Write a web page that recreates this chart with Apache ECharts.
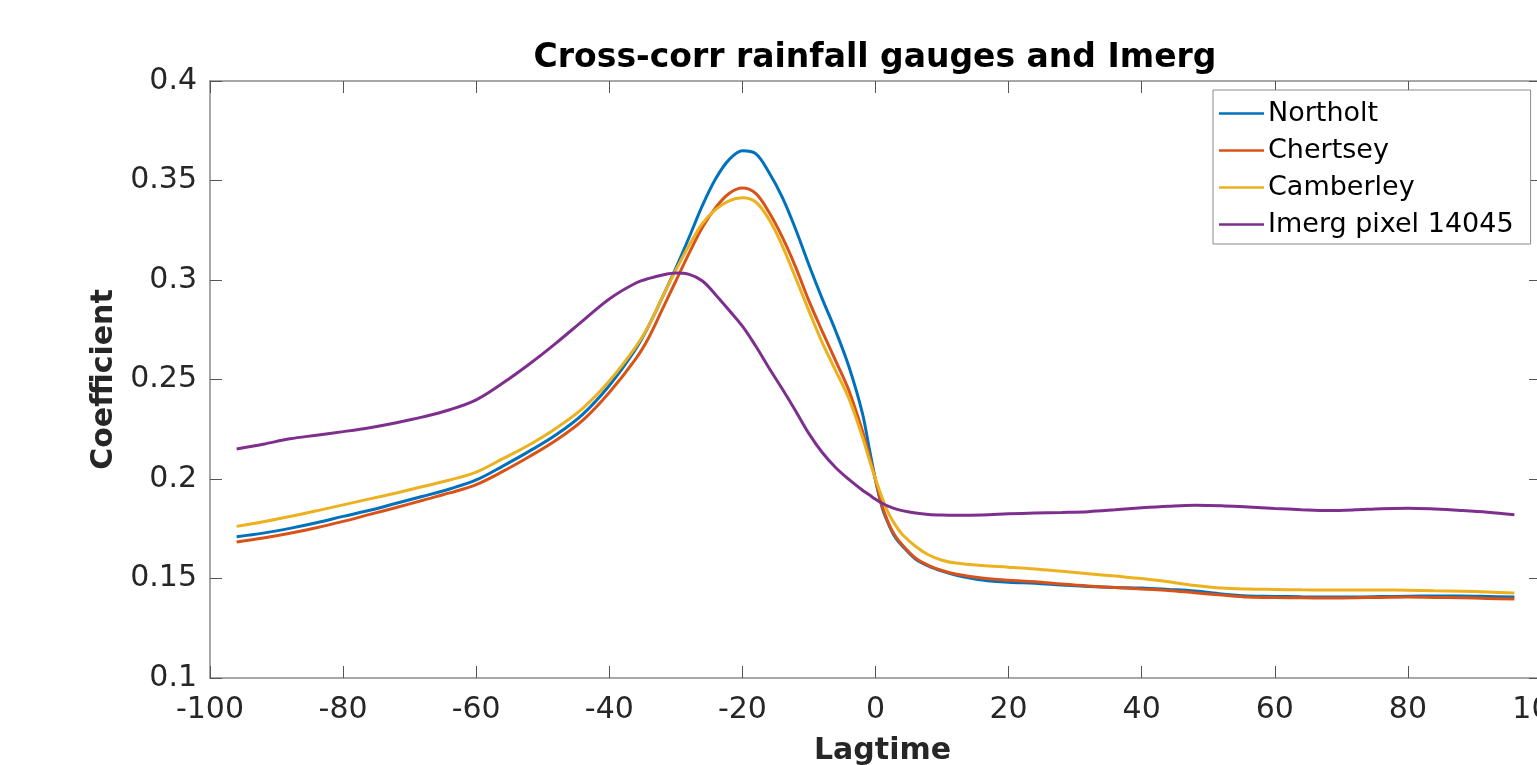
<!DOCTYPE html>
<html>
<head>
<meta charset="utf-8">
<title>Cross-corr rainfall gauges and Imerg</title>
<script src="https://cdn.jsdelivr.net/npm/echarts@6/dist/echarts.min.js"></script>
<style>
  html, body { margin: 0; padding: 0; background: #ffffff; }
  #chart { width: 1537px; height: 765px; }
</style>
</head>
<body>
<div id="chart"></div>
<script>
// lag values (x)
var lags = [-96, -92, -88, -84, -80, -76, -72, -68, -64, -60, -56, -52, -48, -44, -40, -36,
  -34, -32, -30, -28, -26, -24, -22, -20, -18, -16, -14, -12, -10, -8, -6, -4, -2,
  -1, 0, 1, 2, 3, 4, 6, 8, 10, 12,
  16, 20, 24, 28, 32, 36, 40, 44, 48, 52, 56, 60, 64, 68, 72, 76, 80, 84, 88, 92, 96];

var northolt = [0.1710, 0.1728, 0.1752, 0.1780, 0.1812, 0.1843, 0.1878, 0.1913, 0.1950, 0.1995, 0.2065, 0.2140, 0.2222, 0.2325, 0.2470, 0.2655,
  0.2775, 0.2915, 0.3060, 0.3215, 0.3375, 0.3510, 0.3605, 0.3650, 0.3635, 0.3540, 0.3415, 0.3255, 0.3075, 0.2905, 0.2745, 0.2565, 0.2335,
  0.2165, 0.1995, 0.1855, 0.1770, 0.1705, 0.1665, 0.1598, 0.1562, 0.1537, 0.1518,
  0.1493, 0.1481, 0.1476, 0.1467, 0.1460, 0.1455, 0.1452, 0.1445, 0.1437, 0.1422, 0.1412, 0.1410, 0.1408, 0.1407, 0.1407, 0.1409, 0.1411, 0.1412, 0.1412, 0.1410, 0.1407];

var chertsey = [0.1683, 0.1703, 0.1727, 0.1755, 0.1787, 0.1822, 0.1857, 0.1893, 0.1930, 0.1972, 0.2038, 0.2113, 0.2195, 0.2295, 0.2435, 0.2605,
  0.2715, 0.2855, 0.2995, 0.3135, 0.3265, 0.3365, 0.3435, 0.3462, 0.3435, 0.3340, 0.3215, 0.3065, 0.2895, 0.2742, 0.2595, 0.2445, 0.2245,
  0.2125, 0.1995, 0.1865, 0.1775, 0.1712, 0.1670, 0.1603, 0.1565, 0.1540, 0.1523,
  0.1502, 0.1491, 0.1484, 0.1472, 0.1462, 0.1455, 0.1447, 0.1440, 0.1428, 0.1417, 0.1407, 0.1404, 0.1403, 0.1402, 0.1403, 0.1405, 0.1407, 0.1405, 0.1403, 0.1400, 0.1397];

var camberley = [0.1762, 0.1785, 0.1812, 0.1840, 0.1870, 0.1900, 0.1930, 0.1962, 0.1995, 0.2035, 0.2102, 0.2172, 0.2255, 0.2355, 0.2492, 0.2665,
  0.2775, 0.2915, 0.3050, 0.3175, 0.3285, 0.3355, 0.3398, 0.3413, 0.3392, 0.3305, 0.3172, 0.3010, 0.2845, 0.2685, 0.2545, 0.2405, 0.2215,
  0.2105, 0.2000, 0.1905, 0.1825, 0.1768, 0.1722, 0.1662, 0.1618, 0.1592, 0.1578,
  0.1565, 0.1557, 0.1548, 0.1536, 0.1524, 0.1512, 0.1500, 0.1484, 0.1465, 0.1452, 0.1447, 0.1445, 0.1443, 0.1442, 0.1442, 0.1442, 0.1441, 0.1438, 0.1436, 0.1432, 0.1427];

var imerg = [0.2151, 0.2175, 0.2202, 0.2220, 0.2238, 0.2258, 0.2283, 0.2312, 0.2348, 0.2398, 0.2482, 0.2578, 0.2683, 0.2795, 0.2905, 0.2985,
  0.3008, 0.3025, 0.3035, 0.3028, 0.2995, 0.2925, 0.2848, 0.2768, 0.2668, 0.2558, 0.2452, 0.2342, 0.2228, 0.2133, 0.2058, 0.1998, 0.1945,
  0.1922, 0.1898, 0.1878, 0.1862, 0.1850, 0.1841, 0.1829, 0.1822, 0.1819, 0.1818,
  0.1819, 0.1825, 0.1829, 0.1832, 0.1836, 0.1845, 0.1855, 0.1863, 0.1868, 0.1866, 0.1859, 0.1852, 0.1846, 0.1842, 0.1845, 0.1851, 0.1853, 0.1849, 0.1842, 0.1833, 0.1820];

var seriesNames = ['Northolt', 'Chertsey', 'Camberley', 'Imerg pixel 14045'];
var seriesColors = ['#0072BD', '#D95319', '#EDB120', '#7E2F8E'];
var seriesValues = [northolt, chertsey, camberley, imerg];

var FONT = 'DejaVu Sans';
var AXIS_GREY = '#8a8a8a';
var TEXT = '#262626';

function pairs(vals) {
  return lags.map(function (x, i) { return [x, vals[i]]; });
}

var chart = echarts.init(document.getElementById('chart'), null, { renderer: 'canvas' });

var boxAxis = {
  axisLine: { show: true, onZero: false, lineStyle: { color: AXIS_GREY, width: 1.5 } },
  axisTick: { show: true, inside: true, length: 12, lineStyle: { color: '#555', width: 1 } },
  splitLine: { show: false }
};

var option = {
  backgroundColor: '#ffffff',
  animation: false,
  title: {
    text: 'Cross-corr rainfall gauges and Imerg',
    left: 870,
    top: 37,
    textAlign: 'center',
    textStyle: { fontFamily: FONT, fontWeight: 'bold', fontSize: 33, color: '#000' }
  },
  legend: {
    orient: 'vertical',
    left: 1213,
    top: 90,
    data: seriesNames,
    icon: 'rect',
    backgroundColor: '#ffffff',
    borderColor: '#8a8a8a',
    borderWidth: 1,
    borderRadius: 0,
    padding: [10, 17, 6, 6],
    itemWidth: 45,
    itemHeight: 2.5,
    itemGap: 10,
    textStyle: { fontFamily: FONT, fontSize: 27, color: '#000', padding: [0, 0, 0, -1] }
  },
  grid: { left: 210, right: -4, top: 81, bottom: 87, containLabel: false, outerBoundsMode: 'none' },
  xAxis: [
    Object.assign({}, boxAxis, {
      type: 'value', min: -100, max: 100, interval: 20, position: 'bottom',
      name: 'Lagtime', nameLocation: 'middle', nameGap: 58,
      nameTextStyle: { fontFamily: FONT, fontWeight: 'bold', fontSize: 30, color: TEXT, padding: [0, 0, 0, 14] },
      axisLabel: { fontFamily: FONT, fontSize: 30, color: TEXT, margin: 17 }
    }),
    Object.assign({}, boxAxis, {
      type: 'value', min: -100, max: 100, interval: 20, position: 'top',
      axisLabel: { show: false }
    })
  ],
  yAxis: [
    Object.assign({}, boxAxis, {
      type: 'value', min: 0.1, max: 0.4, interval: 0.05, position: 'left',
      name: 'Coefficient', nameLocation: 'middle', nameGap: 88,
      nameTextStyle: { fontFamily: FONT, fontWeight: 'bold', fontSize: 30, color: TEXT },
      axisLabel: { fontFamily: FONT, fontSize: 30, color: TEXT, margin: 13 }
    }),
    Object.assign({}, boxAxis, {
      type: 'value', min: 0.1, max: 0.4, interval: 0.05, position: 'right',
      axisLabel: { show: false }
    })
  ],
  series: seriesNames.map(function (name, i) {
    return {
      name: name,
      type: 'line',
      xAxisIndex: 0,
      yAxisIndex: 0,
      data: pairs(seriesValues[i]),
      symbol: 'none',
      smooth: 0.35,
      color: seriesColors[i],
      lineStyle: { color: seriesColors[i], width: 3 },
      z: 2 + i
    };
  })
};

chart.setOption(option);
</script>
</body>
</html>
